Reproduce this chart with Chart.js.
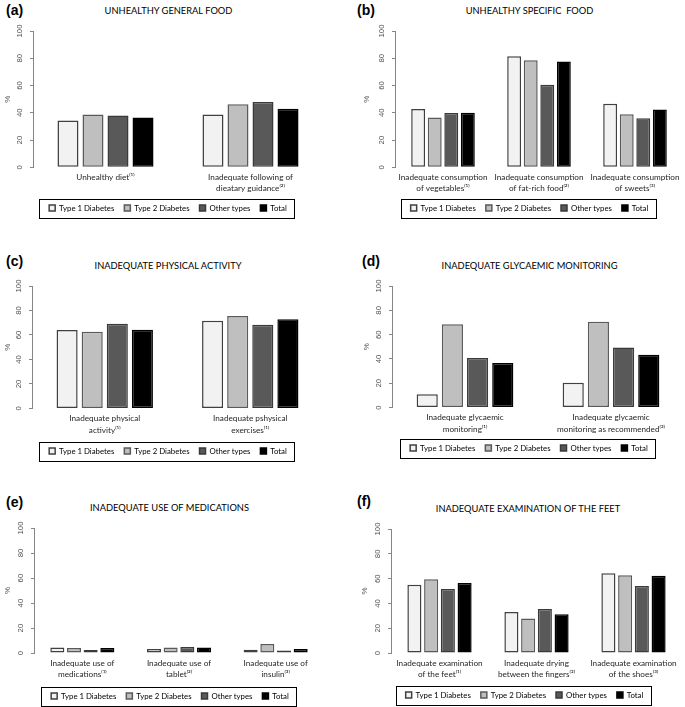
<!DOCTYPE html>
<html>
<head>
<meta charset="utf-8">
<script src="https://cdn.jsdelivr.net/npm/chart.js@4.4.0/dist/chart.umd.min.js"></script>
<style>
    body { margin: 0; background: #fff; width: 685px; height: 707px; position: relative; overflow: hidden; }
    .painel { position: absolute; }
    .letra { position: absolute; font: bold 14px "Liberation Sans", Arial, sans-serif; line-height: 14px; color: #000; transform: translateY(-50%); }
    .titulo { position: absolute; font: 9.3px Lato, sans-serif; color: #000; white-space: pre; transform: translate(-50%, -50%); }
</style>
</head>
<body>
<script>
const serieNomes = ['Type 1 Diabetes', 'Type 2 Diabetes', 'Other types', 'Total'];
const yTicks = [0, 20, 40, 60, 80, 100];

// (a) alimentação geral
const geralLabels = ['Unhealthy diet⁽¹⁾', ['Inadequate following of', 'dieatary guidance⁽²⁾']];
const geralTipo1 = [34.4, 38.8];
const geralTipo2 = [38.8, 46.3];
const geralOutros = [38.0, 48.0];
const geralTotal = [36.6, 42.9];

// (b) alimentação específica
const especificaLabels = [['Inadequate consumption', 'of vegetables⁽¹⁾'], ['Inadequate consumption', 'of fat-rich food⁽²⁾'], ['Inadequate consumption', 'of sweets⁽³⁾']];
const especificaTipo1 = [42.7, 81.5, 46.6];
const especificaTipo2 = [36.6, 78.5, 39.0];
const especificaOutros = [39.8, 60.5, 35.9];
const especificaTotal = [40.0, 77.6, 42.4];

// (c) atividade física
const atividadeLabels = [['Inadequate physical', 'activity⁽¹⁾'], ['Inadequate pshysical', 'exercises⁽¹⁾']];
const atividadeTipo1 = [64.0, 71.7];
const atividadeTipo2 = [62.7, 75.5];
const atividadeOutros = [69.2, 68.4];
const atividadeTotal = [64.3, 72.8];

// (d) monitorização glicémica
const glicemiaLabels = [['Inadequate glycaemic', 'monitoring⁽¹⁾'], ['Inadequate glycaemic', 'monitoring as recommended⁽²⁾']];
const glicemiaTipo1 = [10.9, 20.5];
const glicemiaTipo2 = [68.6, 70.5];
const glicemiaOutros = [40.7, 49.5];
const glicemiaTotal = [36.6, 43.4];

// (e) medicação
const medicacaoLabels = [['Inadequate use of', 'medications⁽¹⁾'], ['Inadequate use of', 'tablet⁽²⁾'], ['Inadequate use of', 'insulin⁽³⁾']];
const medicacaoTipo1 = [4.5, 3.2, 2.7];
const medicacaoTipo2 = [4.0, 4.5, 7.2];
const medicacaoOutros = [2.4, 4.8, 2.1];
const medicacaoTotal = [4.0, 4.5, 3.2];

// (f) exame dos pés
const pesLabels = [['Inadequate examination', 'of the feet⁽¹⁾'], ['Inadequate drying', 'between the fingers⁽²⁾'], ['Inadequate examination', 'of the shoes⁽³⁾']];
const pesTipo1 = [55.1, 33.2, 64.4];
const pesTipo2 = [59.6, 27.8, 62.8];
const pesOutros = [51.6, 35.6, 54.0];
const pesTotal = [56.4, 31.3, 62.3];

const cores = ['#f2f2f2', '#bfbfbf', '#595959', '#000000'];
const bordas = ['#404040', '#5a5a5a', '#3a3a3a', '#000000'];

// posições de cada painel na página (px)
const paineis = [
    { letra: '(a)', titulo: 'UNHEALTHY GENERAL FOOD', labels: geralLabels, series: [geralTipo1, geralTipo2, geralOutros, geralTotal],
      x: 0, w: 342, topo: 31, base: 167.7, esq: 0, dir: 19, eixoY: 33, legendaX: 168, legendaY: 208.5, tituloX: 168.5, tituloY: 10, letraX: 6, letraY: 10 },
    { letra: '(b)', titulo: 'UNHEALTHY SPECIFIC  FOOD', labels: especificaLabels, series: [especificaTipo1, especificaTipo2, especificaOutros, especificaTotal],
      x: 342, w: 343, topo: 31, base: 167.7, esq: 17, dir: 2, eixoY: 36, legendaX: 529.5, legendaY: 208.5, tituloX: 529.5, tituloY: 10, letraX: 357, letraY: 10 },
    { letra: '(c)', titulo: 'INADEQUATE PHYSICAL ACTIVITY', labels: atividadeLabels, series: [atividadeTipo1, atividadeTipo2, atividadeOutros, atividadeTotal],
      x: 0, w: 342, topo: 286, base: 408.3, esq: 0, dir: 19, eixoY: 32, legendaX: 168, legendaY: 451, tituloX: 168, tituloY: 265, letraX: 6, letraY: 261 },
    { letra: '(d)', titulo: 'INADEQUATE GLYCAEMIC MONITORING', labels: glicemiaLabels, series: [glicemiaTipo1, glicemiaTipo2, glicemiaOutros, glicemiaTotal],
      x: 342, w: 343, topo: 286, base: 408, esq: 17, dir: 1, eixoY: 33, legendaX: 529, legendaY: 448.5, tituloX: 529.5, tituloY: 265, letraX: 362, letraY: 261 },
    { letra: '(e)', titulo: 'INADEQUATE USE OF MEDICATIONS', labels: medicacaoLabels, series: [medicacaoTipo1, medicacaoTipo2, medicacaoOutros, medicacaoTotal],
      x: 0, w: 342, topo: 528, base: 653, esq: 0, dir: 18, eixoY: 34, legendaX: 170, legendaY: 696, tituloX: 169.5, tituloY: 507, letraX: 6, letraY: 502 },
    { letra: '(f)', titulo: 'INADEQUATE EXAMINATION OF THE FEET', labels: pesLabels, series: [pesTipo1, pesTipo2, pesOutros, pesTotal],
      x: 342, w: 343, topo: 529, base: 653, esq: 15, dir: 3, eixoY: 34, legendaX: 524.5, legendaY: 695, tituloX: 528, tituloY: 507.5, letraX: 357, letraY: 501 }
];

// centraliza a legenda no x pedido e desenha a moldura em volta
const molduraLegenda = {
    id: 'molduraLegenda',
    afterLayout(chart, args, opts) {
        const leg = chart.legend;
        const dx = opts.centro - (leg.left + leg.right) / 2;
        leg.left += dx;
        leg.right += dx;
    },
    afterDraw(chart) {
        const caixas = chart.legend.legendHitBoxes;
        if (!caixas || !caixas.length) return;
        const x0 = Math.min(...caixas.map(c => c.left)) - 10;
        const x1 = Math.max(...caixas.map(c => c.left + c.width)) + 7;
        const yc = caixas[0].top + caixas[0].height / 2;
        const ctx = chart.ctx;
        ctx.save();
        ctx.strokeStyle = '#000';
        ctx.lineWidth = 1;
        ctx.strokeRect(Math.round(x0) + 0.5, Math.round(yc - 9.5) + 0.5, Math.round(x1 - x0), 19);
        ctx.restore();
    }
};

const MARGEM_TOPO = 12;

paineis.forEach(p => {
    const letra = document.createElement('div');
    letra.className = 'letra';
    letra.style.left = p.letraX + 'px';
    letra.style.top = p.letraY + 'px';
    letra.textContent = p.letra;
    document.body.appendChild(letra);

    const titulo = document.createElement('div');
    titulo.className = 'titulo';
    titulo.style.left = p.tituloX + 'px';
    titulo.style.top = p.tituloY + 'px';
    titulo.textContent = p.titulo;
    document.body.appendChild(titulo);

    const altura = Math.ceil(MARGEM_TOPO + (p.base - p.topo) + 60);
    const ajuste = { alturaX: null };

    const div = document.createElement('div');
    div.className = 'painel';
    div.style.left = p.x + 'px';
    div.style.top = (p.topo - MARGEM_TOPO) + 'px';
    const canvas = document.createElement('canvas');
    canvas.width = p.w;
    canvas.height = altura;
    div.appendChild(canvas);
    document.body.appendChild(div);

    const grafico = new Chart(canvas.getContext('2d'), {
        type: 'bar',
        data: {
            labels: p.labels,
            datasets: p.series.map((valores, i) => ({
                label: serieNomes[i],
                data: valores,
                backgroundColor: cores[i],
                borderColor: bordas[i],
                borderWidth: 1.5,
                borderSkipped: false,
                categoryPercentage: 0.69,
                barPercentage: 0.84
            }))
        },
        options: {
            responsive: false,
            maintainAspectRatio: false,
            animation: false,
            devicePixelRatio: 1,
            layout: { padding: { left: p.esq, right: p.dir, top: MARGEM_TOPO, bottom: 0 } },
            plugins: {
                tooltip: { enabled: false },
                molduraLegenda: { centro: p.legendaX - p.x },
                legend: {
                    position: 'bottom',
                    labels: {
                        boxWidth: 6,
                        boxHeight: 6,
                        padding: 10,
                        color: '#000',
                        font: { family: 'Lato', size: 7.8 }
                    }
                }
            },
            scales: {
                x: {
                    grid: { display: false, drawTicks: false },
                    border: { display: false },
                    afterFit: escala => { if (ajuste.alturaX) escala.height = ajuste.alturaX; },
                    ticks: {
                        padding: 4.5,
                        maxRotation: 0,
                        autoSkip: false,
                        color: '#262626',
                        font: { family: 'Lato', size: 8.2, lineHeight: 1.38 }
                    }
                },
                y: {
                    min: 0,
                    max: 100,
                    afterBuildTicks: escala => { escala.ticks = yTicks.map(v => ({ value: v })); },
                    afterFit: escala => { escala.width = p.eixoY; },
                    grid: { drawOnChartArea: false, tickLength: 3, color: '#868686' },
                    border: { color: '#868686' },
                    ticks: {
                        minRotation: 90,
                        maxRotation: 90,
                        crossAlign: 'center',
                        padding: 4,
                        color: '#505050',
                        font: { family: 'Liberation Sans', size: 7.8 }
                    },
                    title: {
                        display: true,
                        text: '%',
                        color: '#505050',
                        padding: { top: 3, bottom: 0 },
                        font: { family: 'Liberation Sans', size: 8 }
                    }
                }
            }
        },
        plugins: [molduraLegenda]
    });

    // segunda passagem: ajusta topo, base e legenda ao que se mediu
    const area = grafico.chartArea;
    const caixa = grafico.legend.legendHitBoxes[0];
    const legC = caixa.top + caixa.height / 2;
    const topoDiv = Math.round(p.topo - area.top);
    const baseC = p.base - topoDiv;
    const legendaC = p.legendaY - topoDiv;
    ajuste.alturaX = grafico.scales.x.height + (legendaC - baseC) - (legC - area.bottom);
    const novaAltura = Math.round(legendaC + (altura - legC));
    div.style.top = topoDiv + 'px';
    grafico.resize(p.w, novaAltura);
    grafico.update();
});
</script>
</body>
</html>
